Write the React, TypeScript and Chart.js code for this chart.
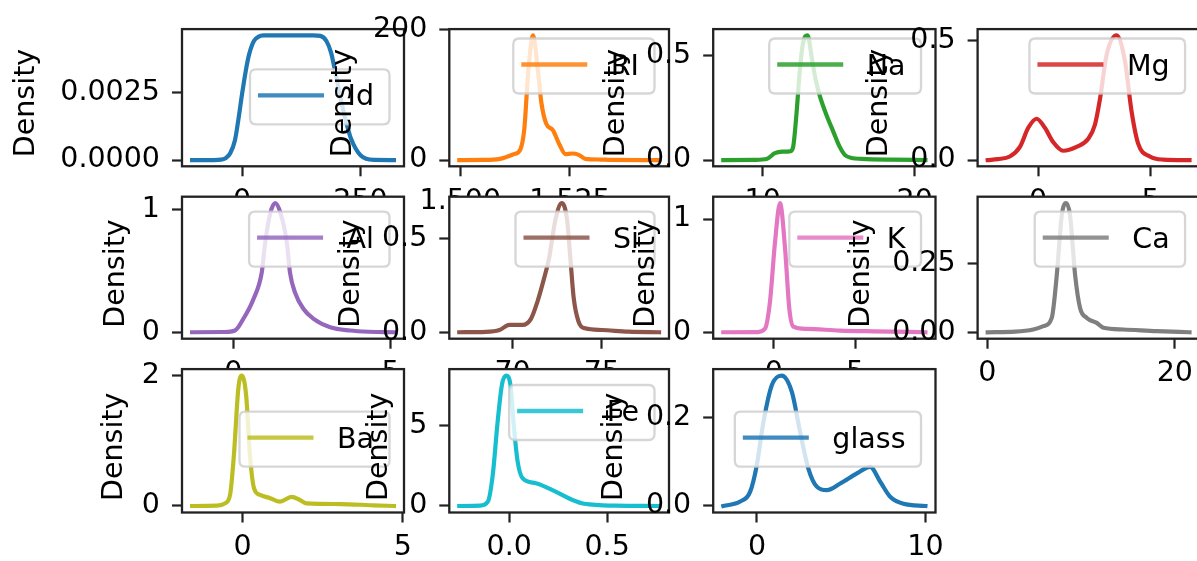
import React, { useEffect, useRef } from "react";
import { Chart, registerables } from "chart.js";

Chart.register(...registerables);

const FONT = '"DejaVu Sans", "Liberation Sans", Arial, sans-serif';
const FS = 28.5;
const CW = 1210;
const CH = 561;
const AXW = 140;
const AXH = 48;

// ---------- series (KDE estimates) ----------
const idX = [-105.5, -60, -45, -35, -25, -15, -8, 0, 8, 15, 25, 35, 45, 60, 100, 150, 165, 178, 188, 196, 204, 212, 220, 230, 240, 250, 262, 280, 320.5];
const idY = [0, 0.000001, 0.000014, 0.00007, 0.000255, 0.00074, 0.00148, 0.00246, 0.00334, 0.00394, 0.00443, 0.00459, 0.004635, 0.00464, 0.00464, 0.00464, 0.00462, 0.00443, 0.00399, 0.00334, 0.00264, 0.00197, 0.00139, 0.00079, 0.00042, 0.000176, 0.000046, 0.000005, 0];

const riX = [1.49976, 1.505, 1.509, 1.5122, 1.5137, 1.5146, 1.5155, 1.5166, 1.5177, 1.5185, 1.5196, 1.5211, 1.5226, 1.524, 1.5255, 1.527, 1.5285, 1.532, 1.534, 1.5453];
const riY = [0, 0.2, 1.8, 9, 16.5, 48, 136, 190.5, 136, 87, 55.5, 45.8, 23.8, 9.1, 10, 8, 1.8, 0.8, 0.3, 0];

const naX = [7.405, 9.5, 10.25, 10.8, 11.3, 11.8, 12.0, 12.23, 12.44, 12.66, 12.95, 13.25, 13.5, 13.76, 14.2, 14.63, 15.07, 15.4, 15.84, 16.5, 18.5, 20.705];
const naY = [0, 0.001, 0.005, 0.033, 0.04, 0.042, 0.063, 0.23, 0.43, 0.565, 0.598, 0.48, 0.38, 0.307, 0.215, 0.139, 0.063, 0.025, 0.01, 0.006, 0.002, 0];

const mgX = [-2.245, -1.8, -1.26, -0.81, -0.44, -0.07, 0.3, 0.67, 1.11, 1.71, 2.23, 2.53, 2.75, 3.05, 3.49, 3.86, 4.16, 4.45, 4.97, 5.57, 6.735];
const mgY = [0, 0.004, 0.015, 0.055, 0.135, 0.173, 0.135, 0.075, 0.039, 0.055, 0.089, 0.149, 0.255, 0.442, 0.522, 0.415, 0.202, 0.069, 0.015, 0.002, 0];

const alX = [-1.315, -0.3, 0.05, 0.316, 0.635, 0.9, 1.01, 1.17, 1.33, 1.5, 1.7, 1.8, 1.96, 2.23, 2.55, 3.08, 3.71, 4.3, 5.105];
const alY = [0, 0.002, 0.014, 0.11, 0.27, 0.486, 0.73, 0.97, 1.054, 0.97, 0.73, 0.486, 0.324, 0.19, 0.109, 0.04, 0.014, 0.004, 0];

const siX = [67.01, 68.5, 69.26, 69.82, 70.56, 71.02, 71.39, 71.76, 72.04, 72.41, 72.75, 73.05, 73.24, 73.43, 73.7, 74.07, 75.0, 76.5, 78.21];
const siY = [0, 0.002, 0.012, 0.039, 0.039, 0.07, 0.163, 0.287, 0.394, 0.606, 0.691, 0.606, 0.394, 0.18, 0.056, 0.021, 0.012, 0.003, 0];

const kX = [-3.105, -1.0, -0.545, -0.237, 0.07, 0.38, 0.69, 0.95, 1.2, 2.02, 4.07, 6.12, 9.315];
const kY = [0, 0.001, 0.03, 0.27, 0.79, 1.14, 0.74, 0.21, 0.05, 0.03, 0.015, 0.008, 0];

const caX = [0.05, 3.0, 4.92, 5.99, 6.88, 7.42, 7.95, 8.41, 8.83, 9.37, 9.9, 10.62, 11.68, 12.39, 14.52, 18.08, 21.57];
const caY = [0, 0.002, 0.01, 0.022, 0.052, 0.208, 0.424, 0.468, 0.424, 0.208, 0.088, 0.052, 0.034, 0.016, 0.01, 0.004, 0];

const baX = [-1.575, -0.8, -0.55, -0.39, -0.27, -0.13, -0.03, 0.11, 0.23, 0.36, 0.55, 0.86, 1.17, 1.53, 1.79, 2.0, 3.04, 4.08, 4.725];
const baY = [0, 0.005, 0.04, 0.17, 0.78, 1.81, 2.0, 1.71, 0.78, 0.27, 0.17, 0.12, 0.066, 0.14, 0.092, 0.04, 0.03, 0.01, 0];

const feX = [-0.255, -0.15, -0.109, -0.084, -0.059, -0.037, -0.016, 0.006, 0.026, 0.043, 0.068, 0.136, 0.237, 0.304, 0.371, 0.439, 0.54, 0.765];
const feY = [0, 0.02, 0.27, 1.94, 5.27, 7.56, 8.12, 7.56, 4.65, 2.77, 1.73, 1.42, 0.89, 0.48, 0.17, 0.07, 0.02, 0];

const glX = [-2.0, -1.0, -0.41, -0.01, 0.38, 0.88, 1.47, 2.07, 2.56, 3.05, 3.55, 4.15, 4.94, 5.93, 6.72, 7.32, 7.91, 8.7, 10.0];
const glY = [0, 0.01, 0.032, 0.093, 0.19, 0.274, 0.296, 0.259, 0.168, 0.085, 0.044, 0.036, 0.051, 0.074, 0.089, 0.055, 0.021, 0.005, 0];

// ---------- names, colours ----------
const names = ["Id", "RI", "Na", "Mg", "Al", "Si", "K", "Ca", "Ba", "Fe", "glass"];
const colors = ["#1f77b4", "#ff7f0e", "#2ca02c", "#d62728", "#9467bd", "#8c564b", "#e377c2", "#7f7f7f", "#bcbd22", "#17becf", "#1f77b4"];
const seriesX = [idX, riX, naX, mgX, alX, siX, kX, caX, baX, feX, glX];
const seriesY = [idY, riY, naY, mgY, alY, siY, kY, caY, baY, feY, glY];

// ---------- axis limits and ticks ----------
const xLimits = [[-126.8, 341.8], [1.497482, 1.547598], [6.74, 21.37], [-2.694, 7.184], [-1.636, 5.426], [66.45, 78.77], [-3.726, 9.936], [-1.026, 22.646], [-1.89, 5.04], [-0.306, 0.816], [-2.6, 10.6]];
const xTicks = [[0, 250], [1.5, 1.525], [10, 20], [0, 5], [0, 5], [70, 75], [0, 5], [0, 20], [0, 5], [0, 0.5], [0, 10]];
const xTickLabels = [["0", "250"], ["1.500", "1.525"], ["10", "20"], ["0", "5"], ["0", "5"], ["70", "75"], ["0", "5"], ["0", "20"], ["0", "5"], ["0.0", "0.5"], ["0", "10"]];
const yTicks = [[0, 0.0025], [0, 200], [0, 0.5], [0, 0.5], [0, 1], [0, 0.5], [0, 1], [0, 0.25], [0, 2], [0, 5], [0, 0.2]];
const yTickLabels = [["0.0000", "0.0025"], ["0", "200"], ["0.0", "0.5"], ["0.0", "0.5"], ["0", "1"], ["0.0", "0.5"], ["0", "1"], ["0.00", "0.25"], ["0", "2"], ["0", "5"], ["0.0", "0.2"]];

// ---------- layout (pixels) ----------
const colL = [182, 449.3, 713.2, 977.6];
const colR = [404, 669, 935.5, 1199.6];
const rowT = [23.3, 196.7, 369.1];
const rowB = [166.3, 338.7, 512.5];
const ylabelX = [33.8, 350.5, 623.8, 887.1, 123.8, 358.8, 653.8, 868.8, 122.1, 387.1, 622.1];
const ylabelY = [103, 273.5, 446.8];
const legendTop = [69.3, 38.5, 38.5, 38.5, 211.7, 211.7, 211.7, 211.7, 411.7, 385, 411.7];

function Panel({ idx }: { idx: number }) {
  const ref = useRef<HTMLCanvasElement | null>(null);
  useEffect(() => {
    const canvas = ref.current;
    if (!canvas) return;
    const col = idx % 4;
    const row = Math.floor(idx / 4);
    const L = colL[col], R = colR[col], T = rowT[row], B = rowB[row];
    const xs = seriesX[idx];
    const ys = seriesY[idx];
    const ymaxData = Math.max(...ys);
    const ymin = -0.05 * ymaxData;
    const ymax = 1.05 * ymaxData;
    const color = colors[idx];
    const name = names[idx];

    const panelPlugin = {
      id: "panelDecor" + idx,
      beforeDraw(chart: any) {
        const { ctx, chartArea: a } = chart;
        ctx.save();
        ctx.fillStyle = "#ffffff";
        ctx.fillRect(a.left, a.top, a.right - a.left, a.bottom - a.top);
        ctx.restore();
      },
      afterDatasetsDraw(chart: any) {
        const { ctx, chartArea: a } = chart;
        ctx.save();
        ctx.strokeStyle = "#222222";
        ctx.lineWidth = 2.3;
        ctx.strokeRect(a.left, a.top, a.right - a.left, a.bottom - a.top);
        ctx.restore();
      },
      afterDraw(chart: any) {
        const { ctx, chartArea: a } = chart;
        ctx.save();
        // y axis label
        ctx.font = `${FS}px ${FONT}`;
        ctx.fillStyle = "#000000";
        ctx.translate(ylabelX[idx], ylabelY[row]);
        ctx.rotate(-Math.PI / 2);
        ctx.textAlign = "center";
        ctx.textBaseline = "alphabetic";
        ctx.fillText("Density", 0, 0);
        ctx.restore();

        // legend
        ctx.save();
        ctx.font = `${FS}px ${FONT}`;
        const tw = ctx.measureText(name).width;
        const bw = tw + 113;
        const bh = 55;
        const right = a.right - 14.5;
        const left = right - bw;
        const top = legendTop[idx];
        const r = 6;
        ctx.beginPath();
        ctx.moveTo(left + r, top);
        ctx.lineTo(left + bw - r, top);
        ctx.quadraticCurveTo(left + bw, top, left + bw, top + r);
        ctx.lineTo(left + bw, top + bh - r);
        ctx.quadraticCurveTo(left + bw, top + bh, left + bw - r, top + bh);
        ctx.lineTo(left + r, top + bh);
        ctx.quadraticCurveTo(left, top + bh, left, top + bh - r);
        ctx.lineTo(left, top + r);
        ctx.quadraticCurveTo(left, top, left + r, top);
        ctx.closePath();
        ctx.fillStyle = "rgba(255,255,255,0.8)";
        ctx.fill();
        ctx.strokeStyle = "rgba(204,204,204,0.8)";
        ctx.lineWidth = 2.3;
        ctx.stroke();
        const ly = top + 26;
        ctx.beginPath();
        ctx.moveTo(left + 8, ly);
        ctx.lineTo(left + 74, ly);
        ctx.strokeStyle = color;
        ctx.globalAlpha = 0.85;
        ctx.lineWidth = 4.3;
        ctx.lineCap = "butt";
        ctx.stroke();
        ctx.globalAlpha = 1;
        ctx.fillStyle = "#000000";
        ctx.textAlign = "left";
        ctx.textBaseline = "alphabetic";
        ctx.fillText(name, left + 97.5, ly + 10);
        ctx.restore();
      },
    };

    const tickFont = { family: FONT, size: FS };
    const chart = new Chart(canvas, {
      type: "line",
      data: {
        datasets: [
          {
            label: name,
            data: xs.map((x, i) => ({ x, y: ys[i] })),
            borderColor: color,
            backgroundColor: color,
            borderWidth: 4.2,
            pointRadius: 0,
            fill: false,
            cubicInterpolationMode: "monotone",
            borderJoinStyle: "round",
            borderCapStyle: "square",
          } as any,
        ],
      },
      options: {
        responsive: false,
        animation: false,
        devicePixelRatio: 1,
        events: [],
        layout: {
          padding: { left: L - AXW, right: CW - R, top: T, bottom: CH - B - AXH },
        },
        plugins: { legend: { display: false }, tooltip: { enabled: false }, title: { display: false } },
        scales: {
          x: {
            type: "linear",
            min: xLimits[idx][0],
            max: xLimits[idx][1],
            afterBuildTicks: (s: any) => {
              s.ticks = xTicks[idx].map((v) => ({ value: v }));
            },
            afterFit: (s: any) => {
              s.height = AXH;
            },
            ticks: {
              callback: (_v: any, i: number) => xTickLabels[idx][i],
              font: tickFont,
              color: "#000000",
              padding: 8,
              maxRotation: 0,
              minRotation: 0,
              autoSkip: false,
            },
            grid: { display: true, drawOnChartArea: false, drawTicks: true, tickLength: 10, tickWidth: 2.2, tickColor: "#222222" },
            border: { display: false },
          },
          y: {
            type: "linear",
            min: ymin,
            max: ymax,
            afterBuildTicks: (s: any) => {
              s.ticks = yTicks[idx].map((v) => ({ value: v }));
            },
            afterFit: (s: any) => {
              s.width = AXW;
            },
            ticks: {
              callback: (_v: any, i: number) => yTickLabels[idx][i],
              font: tickFont,
              color: "#000000",
              padding: 12,
              autoSkip: false,
            },
            grid: { display: true, drawOnChartArea: false, drawTicks: true, tickLength: 10, tickWidth: 2.2, tickColor: "#222222" },
            border: { display: false },
          },
        },
      } as any,
      plugins: [panelPlugin],
    });
    return () => {
      chart.destroy();
    };
  }, [idx]);
  return <canvas ref={ref} width={CW} height={CH} style={{ position: "absolute", left: 0, top: 0 }} />;
}

export default function App() {
  return (
    <div
      style={{
        position: "fixed",
        left: 0,
        top: 0,
        width: 1197,
        height: 561,
        overflow: "hidden",
        background: "#ffffff",
      }}
    >
      {names.map((_, i) => (
        <Panel key={i} idx={i} />
      ))}
    </div>
  );
}
